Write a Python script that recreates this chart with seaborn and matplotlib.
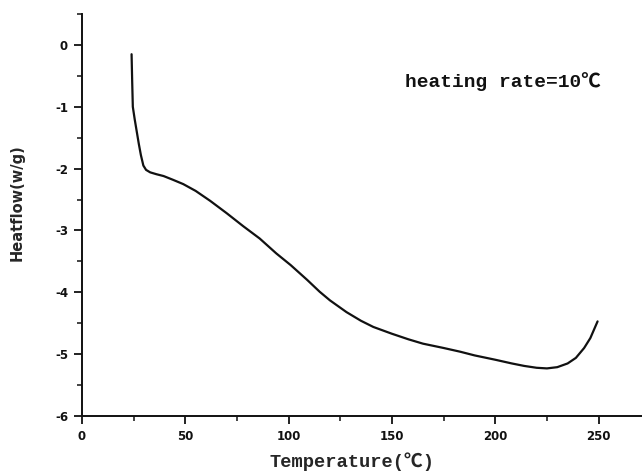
import numpy as np
import pandas as pd
import matplotlib
matplotlib.use("Agg")
import matplotlib.pyplot as plt
import seaborn as sns
from matplotlib.ticker import MultipleLocator, FuncFormatter

temperature = [24.0, 24.3, 24.6, 25.5, 26.5, 27.5, 28.5, 29.7, 31.0, 33.0, 36.0, 39.5,
               44, 49, 55, 62, 70, 78, 86, 94, 101, 109, 115, 120, 128, 135, 141,
               150, 158, 165, 175, 183, 190, 200, 208, 214, 220, 225, 230, 235,
               239, 243, 246, 249.5]
heatflow = [-0.15, -0.6, -1.0, -1.2, -1.4, -1.6, -1.78, -1.95, -2.02, -2.06, -2.09, -2.12,
            -2.18, -2.25, -2.36, -2.52, -2.72, -2.93, -3.13, -3.37, -3.56, -3.80, -3.99,
            -4.13, -4.32, -4.46, -4.56, -4.67, -4.76, -4.83, -4.90, -4.96, -5.02, -5.09,
            -5.15, -5.19, -5.22, -5.23, -5.21, -5.15, -5.06, -4.90, -4.74, -4.47]
x_ticks = [0, 50, 100, 150, 200, 250]
y_ticks = [-6, -5, -4, -3, -2, -1, 0]
annotation = "heating rate=10\u2103"
x_label = "Temperature(\u2103)"
y_label = "Heatflow(w/g)"

sns.set_style("ticks")
plt.rcParams["axes.unicode_minus"] = False
plt.rcParams["font.family"] = ["DejaVu Sans"]

mono = ["Liberation Mono", "Noto Sans CJK SC", "DejaVu Sans"]

df = pd.DataFrame({"T": temperature, "H": heatflow})

fig = plt.figure(figsize=(6.42, 4.72), dpi=100)
ax = fig.add_axes([0.1277, 0.1186, 1 - 0.1277, 0.9703 - 0.1186])
sns.lineplot(data=df, x="T", y="H", ax=ax, color="#111111", linewidth=1.6, sort=False)

ax.set_xlim(0, 271)
ax.set_ylim(-6, 0.5)
ax.set_xticks(x_ticks)
ax.set_yticks(y_ticks)
ax.xaxis.set_minor_locator(MultipleLocator(25))
ax.yaxis.set_minor_locator(MultipleLocator(0.5))
ax.xaxis.set_major_formatter(FuncFormatter(lambda v, p: f"{int(v)}"))
ax.yaxis.set_major_formatter(FuncFormatter(lambda v, p: f"{int(v)}"))

for s in ["top", "right"]:
    ax.spines[s].set_visible(False)
for s in ["left", "bottom"]:
    ax.spines[s].set_linewidth(1.4)
    ax.spines[s].set_color("#111111")

ax.tick_params(axis="both", which="major", direction="out", length=6, width=1.3,
               labelsize=8.5, colors="#111111", pad=4)
ax.tick_params(axis="both", which="minor", direction="out", length=3.5, width=1.1,
               colors="#111111")
for lab in ax.get_xticklabels() + ax.get_yticklabels():
    lab.set_fontweight("bold")

ax.set_xlabel(x_label, family=mono, fontweight="bold", fontsize=13.5)
ax.xaxis.set_label_coords(0.483, -0.09)
ax.set_ylabel(y_label, fontweight="bold", fontsize=10.5)
ax.yaxis.set_label_coords(-0.103, 0.532)

ax.text(156.5, -0.59, annotation, family=mono,
        fontweight="bold", fontsize=14, va="center", ha="left", color="#111111")

fig.savefig("out.png", dpi=100, facecolor="white")
